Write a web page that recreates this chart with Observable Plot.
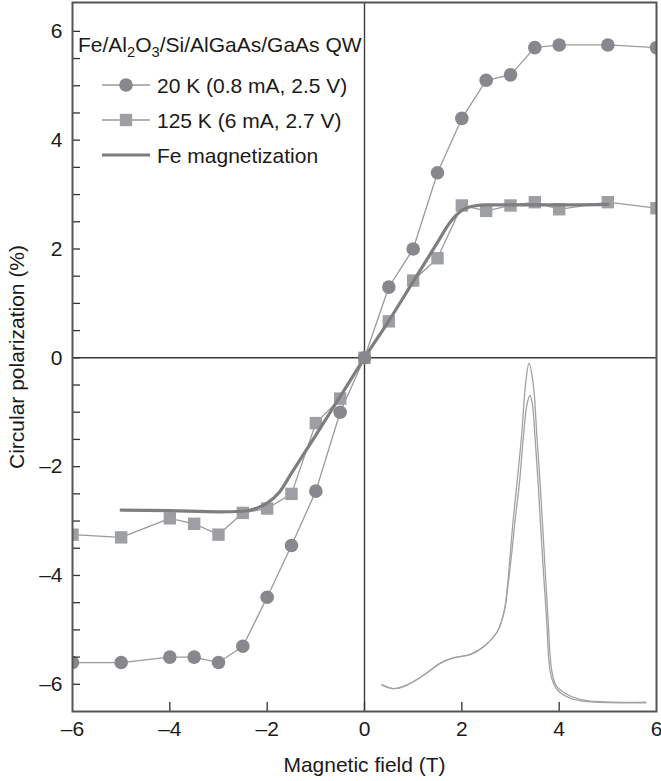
<!DOCTYPE html>
<html><head><meta charset="utf-8">
<script src="https://cdn.jsdelivr.net/npm/d3@7"></script>
<script src="https://cdn.jsdelivr.net/npm/@observablehq/plot@0.6"></script>
<style>
html,body{margin:0;padding:0;background:#fff;}
#chart svg{display:block;}
</style></head><body><div id="chart"></div>
<script>
// ---- data ----
const fieldT  = [-6,-5,-4,-3.5,-3,-2.5,-2,-1.5,-1,-0.5,0,0.5,1,1.5,2,2.5,3,3.5,4,5,6];
const pol20K  = [-5.6,-5.6,-5.5,-5.5,-5.6,-5.3,-4.4,-3.45,-2.45,-1.0,0,1.3,2.0,3.4,4.4,5.1,5.2,5.7,5.75,5.75,5.7];
const pol125K = [-3.25,-3.3,-2.95,-3.05,-3.25,-2.85,-2.77,-2.5,-1.2,-0.75,0,0.67,1.42,1.83,2.8,2.7,2.8,2.86,2.73,2.86,2.75];
const feField = [-5,-4,-3,-2.5,-2.2,-2,-1.75,-1.5,-1,-0.5,0,0.5,1,1.5,1.75,2,2.25,2.5,3,4,5];
const feMag   = [-2.8,-2.81,-2.83,-2.82,-2.76,-2.67,-2.47,-2.12,-1.42,-0.71,0,0.68,1.4,2.12,2.48,2.71,2.79,2.81,2.81,2.81,2.82];
// inset EL spectrum (drawn in the main axes' units)
const specOuterX = [0.36,0.60,0.88,1.22,1.56,1.84,2.18,2.46,2.73,2.87,2.94,3.00,3.06,3.13,3.23,3.31,3.38,3.47,3.54,3.61,3.69,3.77,3.85,3.95,4.24,4.58,5.78];
const specOuterY = [-6.01,-6.08,-6.01,-5.83,-5.61,-5.51,-5.45,-5.30,-5.03,-4.66,-4.17,-3.55,-2.94,-2.33,-1.41,-0.48,-0.10,-0.50,-1.41,-2.33,-3.55,-4.78,-5.76,-6.04,-6.22,-6.30,-6.33];
const specInnerX = [0.36,0.60,0.88,1.22,1.56,1.84,2.18,2.46,2.73,2.87,2.95,3.03,3.10,3.18,3.27,3.34,3.40,3.45,3.50,3.57,3.65,3.74,3.83,3.96,4.24,4.58,5.78];
const specInnerY = [-6.01,-6.08,-6.01,-5.83,-5.61,-5.51,-5.45,-5.30,-5.03,-4.66,-4.17,-3.55,-2.94,-2.33,-1.41,-0.85,-0.69,-0.85,-1.41,-2.33,-3.55,-4.78,-5.83,-6.10,-6.26,-6.32,-6.34];
const xTickValues = [-6,-4,-2,0,2,4,6];
const xInnerTicks = [-4,-2,0,2,4];
const yTickValues = [-6,-4,-2,0,2,4,6];
const yMinorTicks = [-6,-5.5,-5,-4.5,-4,-3.5,-3,-2.5,-2,-1.5,-1,-0.5,0,0.5,1,1.5,2,2.5,3,3.5,4,4.5,5,5.5,6];
const xLabel = "Magnetic field (T)";
const yLabel = "Circular polarization (%)";
const legendTitle = "Fe/Al₂O₃/Si/AlGaAs/GaAs QW";
const legendLabels = ["20 K (0.8 mA, 2.5 V)", "125 K (6 mA, 2.7 V)", "Fe magnetization"];

// ---- build tables ----
const d20  = fieldT.map((x, i) => ({x, y: pol20K[i]}));
const d125 = fieldT.map((x, i) => ({x, y: pol125K[i]}));
const fe   = feField.map((x, i) => ({x, y: feMag[i]}));
const specA = specOuterX.map((x, i) => ({x, y: specOuterY[i]}));
const specB = specInnerX.map((x, i) => ({x, y: specInnerY[i]}));

const FONT = "'Liberation Sans', Arial, Helvetica, sans-serif";
const FS = 21;
const fmt = d => d < 0 ? "\u2013" + Math.abs(d) : String(d);

const C20 = "#87888b", C125 = "#9e9fa2", CLINE = "#9a9a9a", CFE = "#7e7e80", CSPEC = "#a2a2a4";

const plot = Plot.plot({
  width: 661, height: 781,
  marginLeft: 72, marginRight: 5, marginTop: 2, marginBottom: 70,
  x: {domain: [-6, 6]},
  y: {domain: [-6.5, 6.53]},
  style: {fontFamily: FONT, fontSize: FS + "px", color: "#1a1a1a", background: "#fff", overflow: "visible"},
  marks: [
    Plot.ruleX([0], {stroke: "#3c3c3c", strokeWidth: 1.4}),
    Plot.ruleY([0], {stroke: "#3c3c3c", strokeWidth: 1.4}),
    Plot.line(specA, {x: "x", y: "y", curve: "catmull-rom", stroke: CSPEC, strokeWidth: 1.3}),
    Plot.line(specB, {x: "x", y: "y", curve: "catmull-rom", stroke: CSPEC, strokeWidth: 1.3}),
    Plot.line(d20, {x: "x", y: "y", stroke: CLINE, strokeWidth: 1.3, clip: true}),
    Plot.line(d125, {x: "x", y: "y", stroke: CLINE, strokeWidth: 1.3, clip: true}),
    Plot.dot(d125, {x: "x", y: "y", symbol: "square", r: 7, fill: C125, stroke: null, clip: true}),
    Plot.line(fe, {x: "x", y: "y", curve: "monotone-x", stroke: CFE, strokeWidth: 3.2}),
    Plot.dot(d20, {x: "x", y: "y", r: 6.8, fill: C20, stroke: null, clip: true}),
    Plot.axisX({ticks: xTickValues, tickSize: 0, tickPadding: 10, label: null, tickFormat: fmt, fontSize: FS}),
    Plot.axisX({ticks: xInnerTicks, tickSize: 9, dy: -9, fill: "none", label: null, stroke: "#333", strokeWidth: 1.3}),
    Plot.axisY({ticks: yTickValues, tickSize: 0, tickPadding: 10, label: null, tickFormat: fmt, fontSize: FS}),
    Plot.axisY({ticks: yMinorTicks, tickSize: 8, dx: 8, fill: "none", label: null, stroke: "#333", strokeWidth: 1.3}),
    Plot.frame({stroke: "#555", strokeWidth: 2}),
    Plot.text([xLabel], {text: d => d, frameAnchor: "bottom", dy: 54, lineAnchor: "middle", textAnchor: "middle", fontSize: FS}),
    Plot.text([yLabel], {text: d => d, frameAnchor: "left", dx: -55, rotate: -90, lineAnchor: "middle", textAnchor: "middle", fontSize: FS})
  ]
});

// ---- in-plot legend ----
const svg = d3.select(plot);
const lg = svg.append("g").attr("font-family", FONT).attr("font-size", FS).attr("fill", "#1a1a1a").attr("text-anchor", "start");
const title = lg.append("text").attr("x", 78).attr("y", 52);
const subs = {"₂": "2", "₃": "3"};
// split title into runs of normal / subscript characters
const runs = [];
for (const ch of legendTitle) {
  const isSub = !!subs[ch];
  const c = isSub ? subs[ch] : ch;
  if (runs.length && runs[runs.length - 1].sub === isSub) runs[runs.length - 1].t += c;
  else runs.push({t: c, sub: isSub});
}
let level = 0;
for (const r of runs) {
  const target = r.sub ? 5 : 0;
  const ts = title.append("tspan").text(r.t);
  if (target !== level) ts.attr("dy", target - level);
  if (r.sub) ts.attr("font-size", FS * 0.7);
  level = target;
}

const rowY = [85, 120, 155];
const lx1 = 102, lx2 = 150, sx = 126, tx = 157;
lg.append("line").attr("x1", lx1).attr("x2", lx2).attr("y1", rowY[0]).attr("y2", rowY[0]).attr("stroke", CLINE).attr("stroke-width", 1.3);
lg.append("circle").attr("cx", sx).attr("cy", rowY[0]).attr("r", 6.8).attr("fill", C20);
lg.append("line").attr("x1", lx1).attr("x2", lx2).attr("y1", rowY[1]).attr("y2", rowY[1]).attr("stroke", CLINE).attr("stroke-width", 1.3);
lg.append("rect").attr("x", sx - 6.2).attr("y", rowY[1] - 6.2).attr("width", 12.4).attr("height", 12.4).attr("fill", C125);
lg.append("line").attr("x1", lx1).attr("x2", lx2).attr("y1", rowY[2]).attr("y2", rowY[2]).attr("stroke", CFE).attr("stroke-width", 3.2);
legendLabels.forEach((t, i) => {
  lg.append("text").attr("x", tx).attr("y", rowY[i]).attr("dy", "0.36em").text(t);
});

document.getElementById("chart").appendChild(plot);
</script></body></html>
